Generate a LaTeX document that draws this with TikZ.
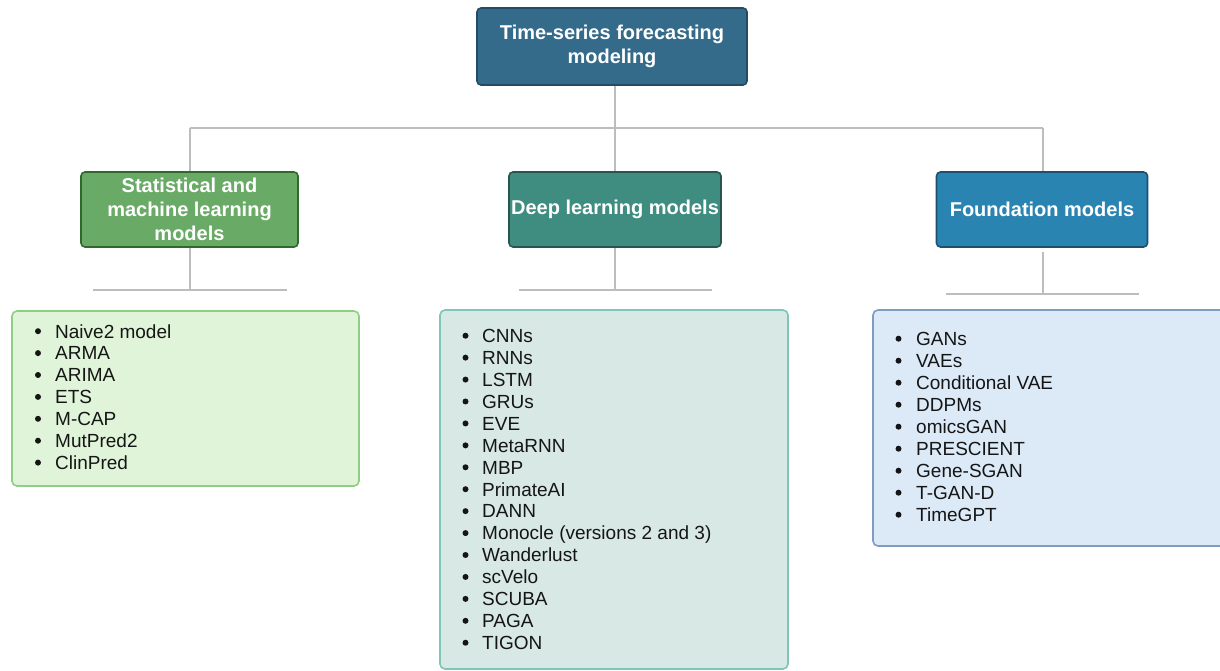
\documentclass[tikz,border=0pt]{standalone}
\usepackage{fontspec}
\setmainfont{Liberation Sans}
\definecolor{rootfill}{HTML}{346A8A}
\definecolor{rootdraw}{HTML}{244B66}
\definecolor{statfill}{HTML}{6AAA67}
\definecolor{statdraw}{HTML}{2F6A2C}
\definecolor{deepfill}{HTML}{3F8C80}
\definecolor{deepdraw}{HTML}{28564F}
\definecolor{foundfill}{HTML}{2A84B2}
\definecolor{founddraw}{HTML}{1E4F6E}
\definecolor{lstatfill}{HTML}{E0F4D9}
\definecolor{lstatdraw}{HTML}{8FCF83}
\definecolor{ldeepfill}{HTML}{D8E8E4}
\definecolor{ldeepdraw}{HTML}{80C6B8}
\definecolor{lfoundfill}{HTML}{DCEAF8}
\definecolor{lfounddraw}{HTML}{7F9DBD}
\definecolor{conn}{HTML}{BDBDBD}
\definecolor{itemtext}{HTML}{151515}
\tikzset{
  head/.style={rounded corners=4pt, line width=1.6pt, text=white, align=center,
    font=\fontsize{20}{24}\selectfont\bfseries, inner sep=0pt},
  listbox/.style={rounded corners=5pt, line width=1.6pt, inner sep=0pt},
  item/.style={anchor=base west, inner sep=0pt, text=itemtext,
    font=\fontsize{19}{22}\selectfont},
  bulletdot/.style={fill=itemtext},
  link/.style={draw=conn, line width=2pt},
}
\begin{document}
\begin{tikzpicture}[x=1pt,y=-1pt]
\useasboundingbox (0,0) rectangle (1220,670);
\fill[white] (0,0) rectangle (1220,670);

\coordinate (j0) at (615,128);
\coordinate (jl) at (190,128);
\coordinate (jr) at (1043,128);

% header boxes
\node[head, fill=rootfill, draw=rootdraw, minimum width=270pt, minimum height=77pt] (root) at (612,46.5) {Time-series forecasting\\modeling};
\node[head, fill=statfill, draw=statdraw, minimum width=217pt, minimum height=75pt] (stat) at (189.5,209.5) {Statistical and\\machine learning\\models};
\node[head, fill=deepfill, draw=deepdraw, minimum width=212pt, minimum height=75pt] (deep) at (615,209.5) {Deep learning models};
\node[head, fill=foundfill, draw=founddraw, minimum width=211pt, minimum height=75pt] (found) at (1042,209.5) {Foundation models};

% upper connectors
\draw[link] (root.south -| j0) -- (j0);
\draw[link] (jl) -- (jr);
\draw[link] (jl) -- (stat.north -| jl);
\draw[link] (j0) -- (deep.north);
\draw[link] (jr) -- (found.north -| jr);

% lower stubs
\coordinate (sv) at (190,290);
\coordinate (sa) at (93,290);
\coordinate (sb) at (287,290);
\draw[link] (stat.south -| sv) -- (sv);
\draw[link] (sa) -- (sb);

\coordinate (dv) at (615,290);
\coordinate (da) at (519,290);
\coordinate (db) at (712,290);
\draw[link] (deep.south) -- (dv);
\draw[link] (da) -- (db);

\coordinate (ft) at (1043,252);
\coordinate (fv) at (1043,294);
\coordinate (fa) at (946,294);
\coordinate (fb) at (1139,294);
\draw[link] (ft) -- (fv);
\draw[link] (fa) -- (fb);

% list boxes
\draw[listbox, fill=lstatfill, draw=lstatdraw] (12,311) rectangle (359,486);
\draw[listbox, fill=ldeepfill, draw=ldeepdraw] (440,310) rectangle (788,669);
\draw[listbox, fill=lfoundfill, draw=lfounddraw] (873,310) rectangle (1228,546);

% list items
\foreach [count=\i] \t in {Naive2 model, ARMA, ARIMA, ETS, M-CAP, MutPred2, ClinPred}{
  \fill[bulletdot] (38,{338+21.9*(\i-1)-6.8}) circle (3pt);
  \node[item, name=s\i] at (55,{338+21.9*(\i-1)}) {\t};
}
\foreach [count=\i] \t in {CNNs, RNNs, LSTM, GRUs, EVE, MetaRNN, MBP, PrimateAI, DANN, Monocle (versions 2 and 3), Wanderlust, scVelo, SCUBA, PAGA, TIGON}{
  \fill[bulletdot] (465.5,{342.5+21.93*(\i-1)-6.8}) circle (3pt);
  \node[item, name=d\i] at (482,{342.5+21.93*(\i-1)}) {\t};
}
\foreach [count=\i] \t in {GANs, VAEs, Conditional VAE, DDPMs, omicsGAN, PRESCIENT, Gene-SGAN, T-GAN-D, TimeGPT}{
  \fill[bulletdot] (898.5,{345.5+22*(\i-1)-6.8}) circle (3pt);
  \node[item, name=f\i] at (916,{345.5+22*(\i-1)}) {\t};
}
\end{tikzpicture}
\end{document}
